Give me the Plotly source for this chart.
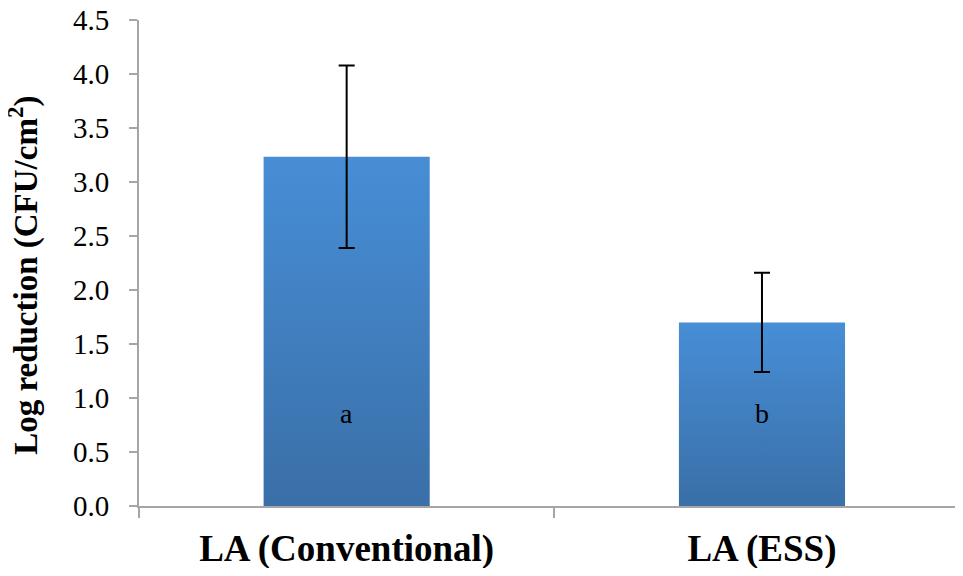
import plotly.graph_objects as go

categories = ["LA (Conventional)", "LA (ESS)"]
means = [3.235, 1.70]
errors = [0.845, 0.46]
letters = ["a", "b"]
y_ticks = [0.0, 0.5, 1.0, 1.5, 2.0, 2.5, 3.0, 3.5, 4.0, 4.5]
y_title = "<b>Log reduction (CFU/cm<sup>2</sup>)</b>"

BAR_W = 0.4
TOP_COLOR = "#478ed6"
BOT_COLOR = "#3a6fa7"
FONT = "Liberation Serif"
AXIS_COLOR = "#a6a6a6"

fig = go.Figure()

for i, (cat, v) in enumerate(zip(categories, means)):
    xs = [i - BAR_W / 2, i + BAR_W / 2, i + BAR_W / 2, i - BAR_W / 2, i - BAR_W / 2]
    ys = [0, 0, v, v, 0]
    fig.add_trace(go.Scatter(
        x=xs, y=ys, mode="lines", fill="toself",
        line=dict(width=0, color="rgba(0,0,0,0)"),
        fillgradient=dict(type="vertical",
                          colorscale=[[0, BOT_COLOR], [1, TOP_COLOR]],
                          start=0, stop=v),
        hoverinfo="skip", showlegend=False,
    ))

fig.add_trace(go.Scatter(
    x=list(range(len(categories))), y=means, mode="markers",
    marker=dict(size=1, color="rgba(0,0,0,0)"),
    error_y=dict(type="data", array=errors, visible=True,
                 color="black", thickness=2, width=8),
    hoverinfo="skip", showlegend=False,
))

for i, t in enumerate(letters):
    fig.add_annotation(x=i, y=0.86, text=t, showarrow=False,
                       font=dict(family=FONT, size=28, color="black"))

fig.add_annotation(xref="paper", yref="paper", x=-0.14, y=0.475,
                   xanchor="center", yanchor="middle", textangle=-90,
                   text=y_title, showarrow=False,
                   font=dict(family=FONT, size=33, color="black"))

fig.update_layout(
    width=955, height=560,
    font=dict(family=FONT, size=22, color="black"),
    paper_bgcolor="white", plot_bgcolor="white",
    margin=dict(l=131, r=0, t=12, b=62, autoexpand=False),
    showlegend=False,
)
fig.update_xaxes(
    range=[-0.5, 1.484], automargin=False,
    tickmode="array", tickvals=[0, 1],
    ticktext=[f"<b>{c}</b>" for c in categories],
    tickfont=dict(family=FONT, size=37, color="black"),
    ticklabelstandoff=9, ticklabeloverflow="allow",
    showline=True, linecolor=AXIS_COLOR, linewidth=2,
    ticks="", showgrid=False, zeroline=False,
    minor=dict(tickvals=[-0.5, 0.5, 1.5], ticks="outside",
               ticklen=10, tickcolor=AXIS_COLOR, tickwidth=2, showgrid=False),
)
fig.update_yaxes(
    range=[0, 4.5005], automargin=False,
    tickmode="array", tickvals=y_ticks, ticktext=[f"{t:.1f}" for t in y_ticks],
    tickfont=dict(family=FONT, size=29, color="black"),
    ticklabelstandoff=14, ticklabeloverflow="allow",
    showline=True, linecolor=AXIS_COLOR, linewidth=2,
    ticks="outside", ticklen=8, tickcolor=AXIS_COLOR, tickwidth=2,
    showgrid=False, zeroline=False,
)

fig.write_html("out.html")
